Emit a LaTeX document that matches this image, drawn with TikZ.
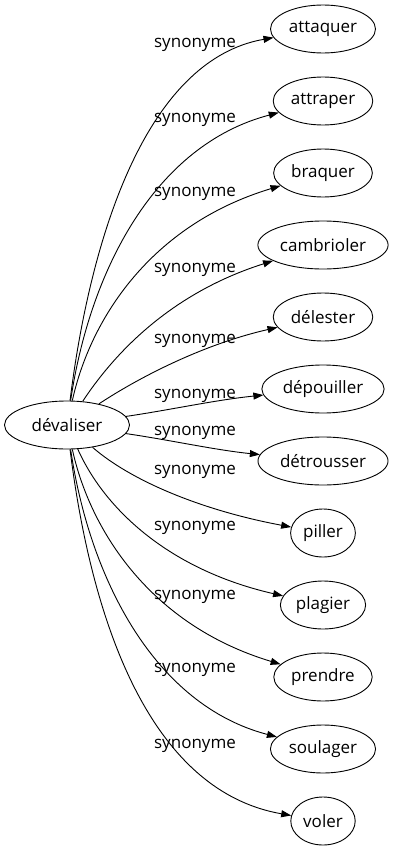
\documentclass[tikz,border=0pt]{standalone}
\usepackage{fontspec}
\setmainfont{Open Sans}
\usetikzlibrary{arrows.meta, shapes.geometric}
\tikzset{->, >={Triangle[length=10pt, width=7pt]}, font=\fontsize{17}{20}\selectfont}
\tikzset{word/.style={shape=ellipse, draw, -, inner xsep=3pt, minimum height=48pt}}

\begin{document}
\begin{tikzpicture}[x=1pt, y=-1pt, line width=0.9pt]
  \useasboundingbox (0,0) rectangle (401,851);
  \node[word, minimum width=125pt] (dev) at (67,425) {dévaliser};
  \foreach \name/\txt [count=\i from 0] in {attaquer/attaquer, attraper/attraper,
      braquer/braquer, cambrioler/cambrioler, delester/délester, depouiller/dépouiller,
      detrousser/détrousser, piller/piller, plagier/plagier, prendre/prendre,
      soulager/soulager, voler/voler}
    \node[word] (\name) at (323, 29+72*\i) {\txt};
  % edges from the centre word, label y last
  \foreach \name/\ax/\ay/\bx/\by/\ly in {attaquer/90/240/145/60/45,
      attraper/90/270/155/145/120, braquer/90/320/150/225/194,
      cambrioler/110/360/165/295/270, delester/135/380/200/345/341,
      depouiller/170/410/215/400/396, detrousser/170/440/215/450/433,
      piller/130/480/200/510/472, plagier/105/510/170/570/528,
      prendre/90/530/150/625/597, soulager/90/580/155/705/670,
      voler/90/610/145/790/746}
  {
    \draw (dev) .. controls (\ax,\ay) and (\bx,\by) .. (\name);
    \node (l\name) at (195,\ly) {synonyme};
  }
\end{tikzpicture}
\end{document}
